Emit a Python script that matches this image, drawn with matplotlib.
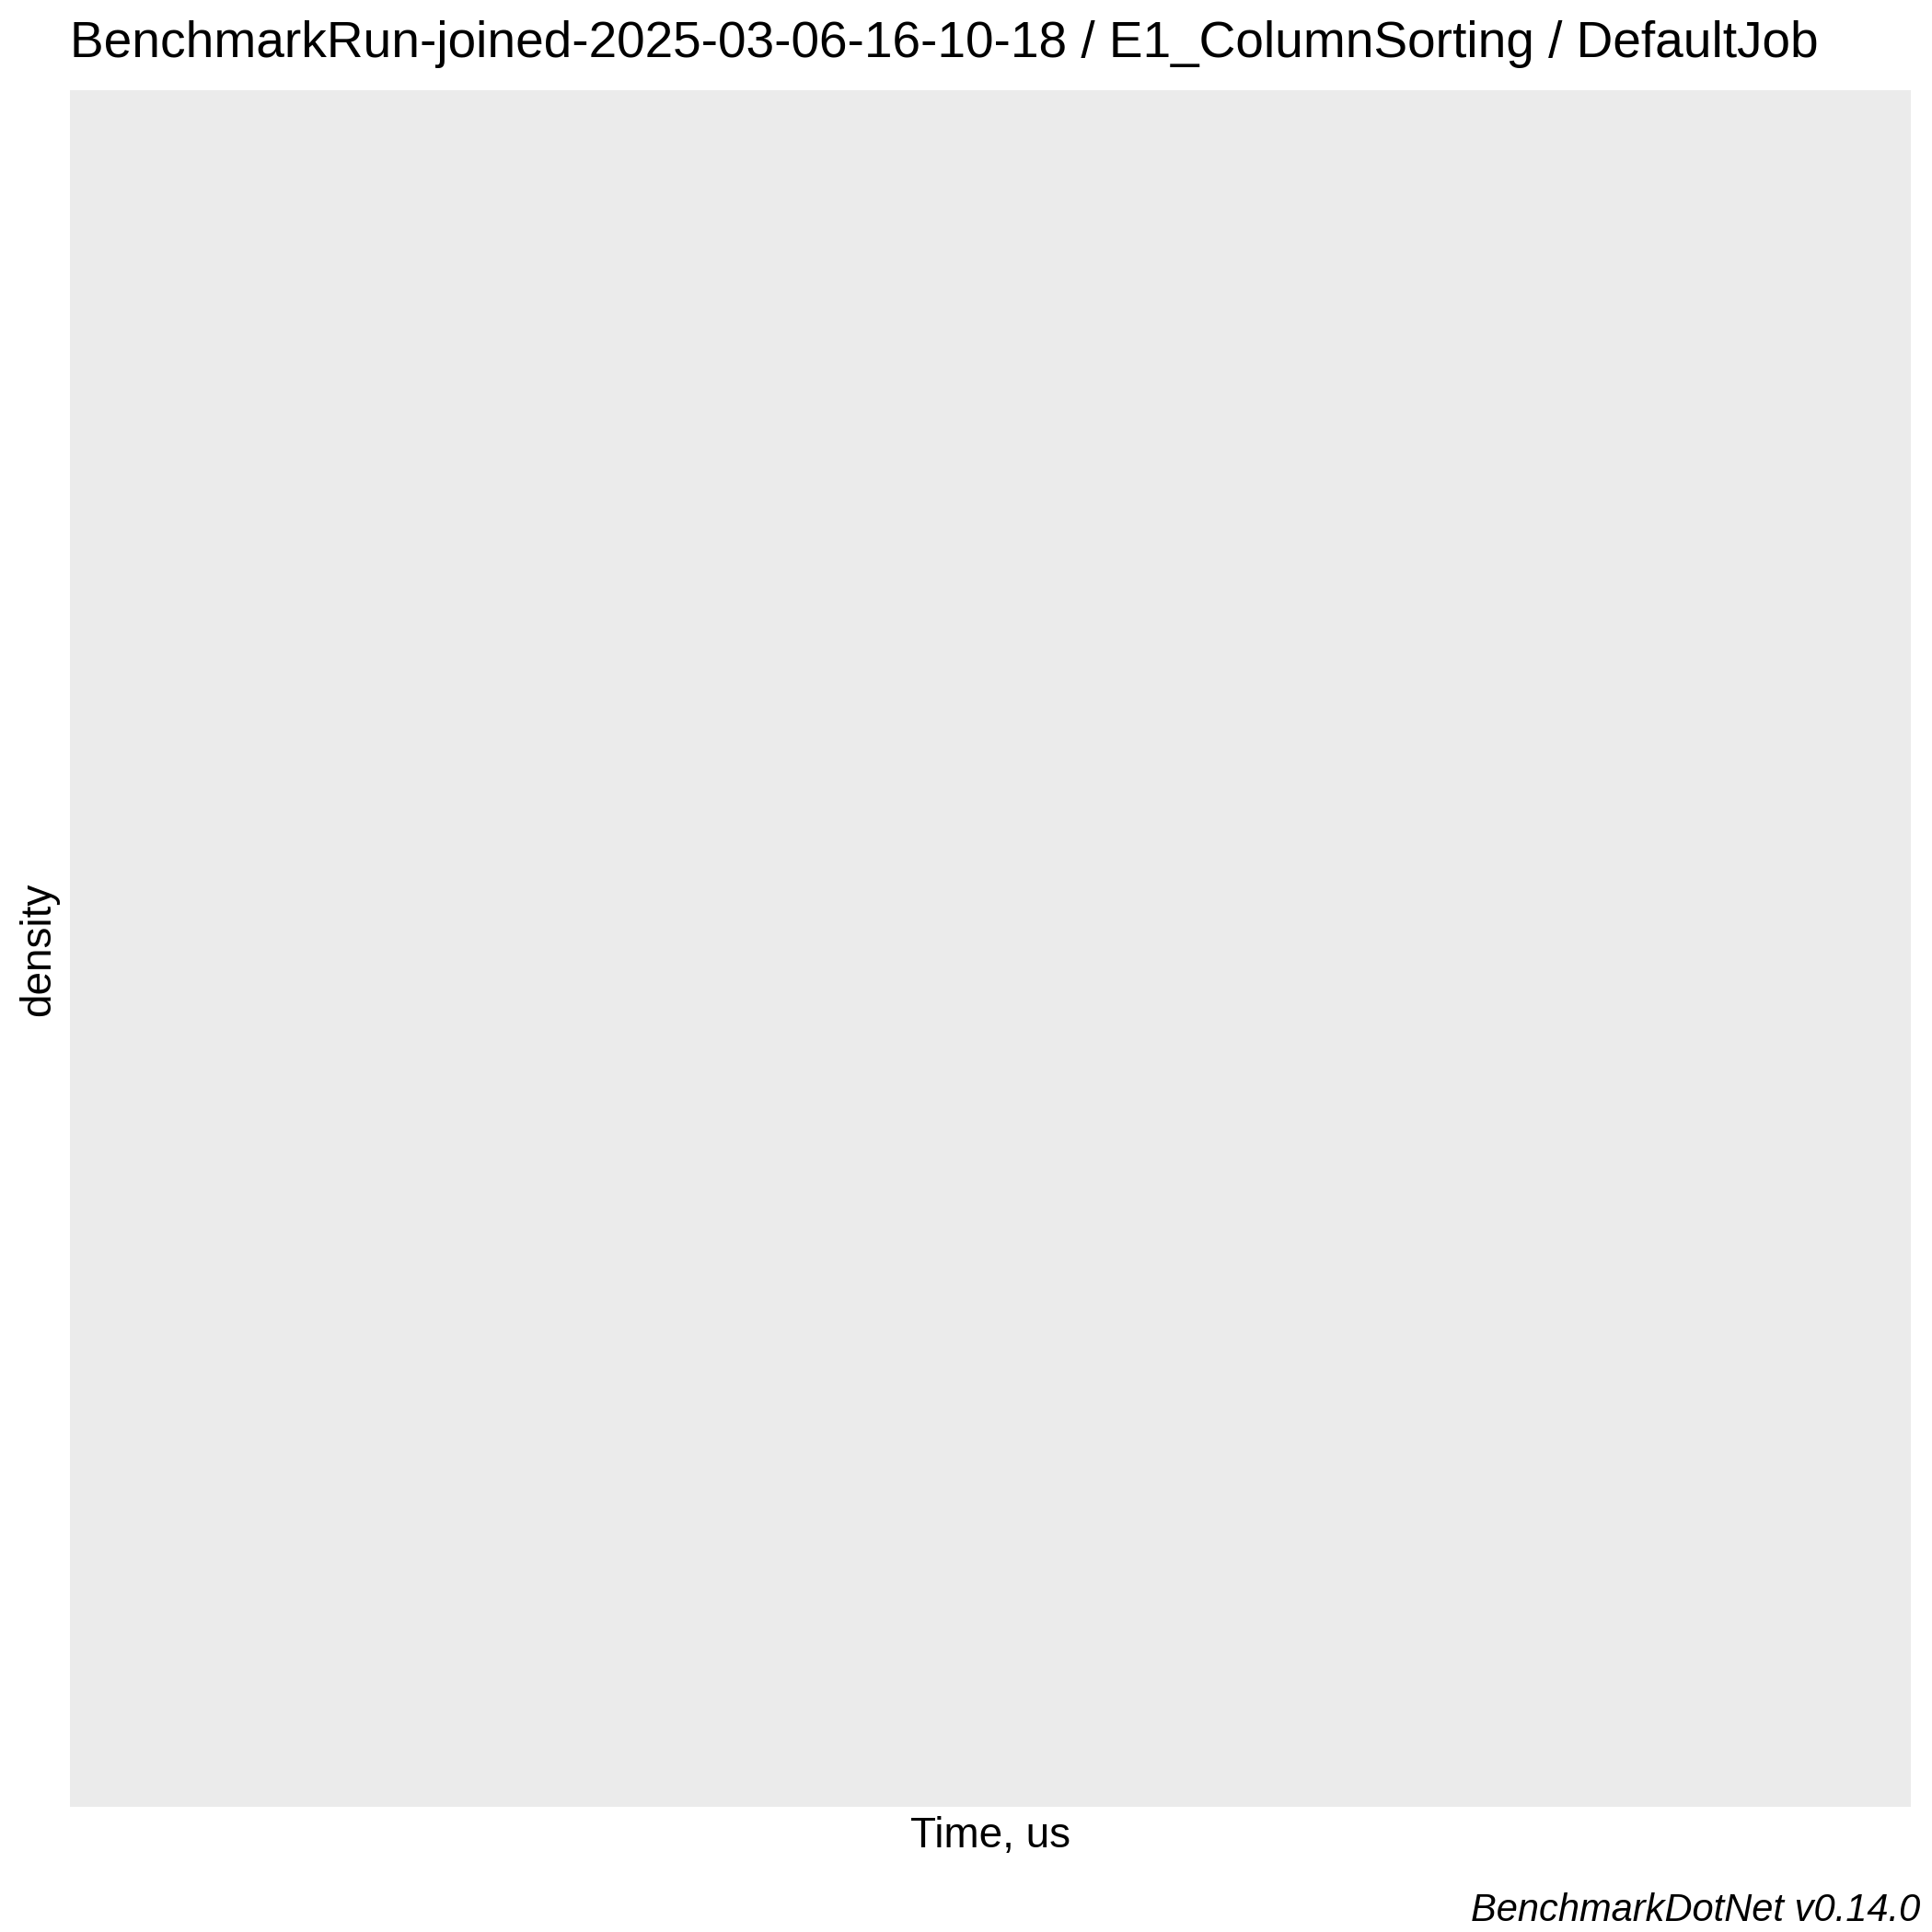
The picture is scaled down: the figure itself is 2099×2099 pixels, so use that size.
import numpy as np
import matplotlib
matplotlib.use("Agg")
import matplotlib.pyplot as plt

# the run produced no measurements, so the density panel stays empty
times_us = np.array([])
density = np.array([])

title = "BenchmarkRun-joined-2025-03-06-16-10-18 / E1_ColumnSorting / DefaultJob"
x_label = "Time, us"
y_label = "density"
caption = "BenchmarkDotNet v0.14.0"

W = 2099
dpi = 300
plt.rcParams['font.family'] = ['Liberation Sans', 'DejaVu Sans']

fig = plt.figure(figsize=(W / dpi, W / dpi), dpi=dpi, facecolor="white")

# panel in pixels: left 76, right 2076, top 98, bottom 1963
ax = fig.add_axes([76 / W, 1 - 1963 / W, 2000 / W, 1865 / W])
ax.set_facecolor("#EBEBEB")
ax.plot(times_us, density, color="black")
ax.set_xticks([])
ax.set_yticks([])
for s in ax.spines.values():
    s.set_visible(False)

fig.text(76 / W, 1 - 62.3 / W, title, fontsize=13.2, ha="left", va="baseline")
fig.text(1076 / W, 1 - 2006.7 / W, x_label, fontsize=11, ha="center", va="baseline")
fig.text(54 / W, 1 - 1031 / W, y_label, fontsize=11, rotation=90,
         rotation_mode="anchor", ha="center", va="baseline")
fig.text(2086 / W, 1 - 2086.7 / W, caption, fontsize=10.0, style="italic",
         ha="right", va="baseline")

fig.savefig("out.png", dpi=dpi, facecolor="white")
